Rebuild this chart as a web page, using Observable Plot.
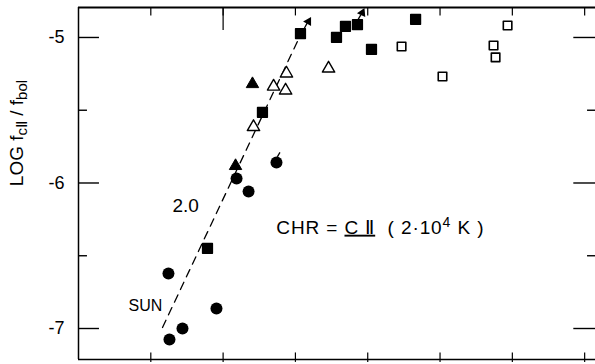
<!DOCTYPE html>
<html>
<head>
<meta charset="utf-8">
<script src="https://cdn.jsdelivr.net/npm/d3@7"></script>
<script src="https://cdn.jsdelivr.net/npm/@observablehq/plot@0.6"></script>
<style>
  html, body { margin: 0; padding: 0; background: #fff; }
  #chart svg { display: block; }
</style>
</head>
<body>
<div id="chart"></div>
<script>
// ---- data (x in arbitrary log units, 0.5 per tick; y = LOG fCII/fbol) ----
const filledCircles = [
  {x: 0.622, y: -6.622}, {x: 0.719, y: -7.000}, {x: 0.629, y: -7.076},
  {x: 0.954, y: -6.863}, {x: 1.093, y: -5.969}, {x: 1.176, y: -6.058},
  {x: 1.369, y: -5.859}
];
const filledSquares = [
  {x: 0.892, y: -6.450}, {x: 1.272, y: -5.515}, {x: 1.535, y: -4.973},
  {x: 1.784, y: -5.000}, {x: 1.846, y: -4.924}, {x: 1.929, y: -4.911},
  {x: 2.026, y: -5.082}, {x: 2.331, y: -4.876}
];
const filledTriangles = [
  {x: 1.203, y: -5.320}, {x: 1.086, y: -5.883}
];
const openTriangles = [
  {x: 1.210, y: -5.615}, {x: 1.349, y: -5.337}, {x: 1.438, y: -5.247},
  {x: 1.432, y: -5.364}, {x: 1.729, y: -5.213}
];
const openSquares = [
  {x: 2.234, y: -5.062}, {x: 2.517, y: -5.268}, {x: 2.870, y: -5.055},
  {x: 2.884, y: -5.137}, {x: 2.967, y: -4.918}
];
const slopeLine = [{x: 0.581, y: -6.993}, {x: 1.556, y: -4.938}];
const arrowShafts = [
  {x1: 1.560, y1: -4.940, x2: 1.582, y2: -4.900},
  {x1: 1.923, y1: -4.895, x2: 1.952, y2: -4.845},
  {x1: 1.375, y1: -5.820, x2: 1.393, y2: -5.790}
];
const arrowHeads = [
  {x: 1.590, y: -4.890, angle: 30},
  {x: 1.962, y: -4.830, angle: 25}
];
const yMajorTicks = [-5, -6, -7];
const yMinorTicks = [-5.5, -6.5];
const yTickLabels = ["-5", "-6", "-7"];
const xTicks = [0.5, 1, 1.5, 2, 2.5, 3, 3.5];
const xLongTopTicks = [1];
const labels = [
  {x: 0.650, y: -6.155, text: "2.0", size: 19},
  {x: 0.346, y: -6.845, text: "SUN", size: 16}
];
const xMin = 0, xMax = 3.575, yBot = -7.213, yTop = -4.794;

const font = "'Liberation Sans', Arial, sans-serif";

const chart = Plot.plot({
  width: 595,
  height: 364,
  marginLeft: 78,
  marginRight: 0,
  marginTop: 7,
  marginBottom: 5,
  style: {background: "#fff", fontFamily: font, color: "#000", overflow: "visible"},
  x: {domain: [xMin, xMax], axis: null},
  y: {domain: [yBot, yTop], axis: null},
  marks: [
    // frame (right edge cut off)
    Plot.ruleX([xMin], {y1: yBot, y2: yTop, stroke: "#000", strokeWidth: 1.5}),
    Plot.ruleY([yTop], {x1: xMin, x2: xMax, stroke: "#000", strokeWidth: 2}),
    Plot.ruleY([yBot], {x1: xMin, x2: xMax, stroke: "#000", strokeWidth: 1.5}),
    // left ticks
    Plot.ruleY(yMajorTicks, {x1: xMin, x2: xMin + 0.145, stroke: "#000", strokeWidth: 1.4}),
    Plot.ruleY(yMinorTicks, {x1: xMin, x2: xMin + 0.062, stroke: "#000", strokeWidth: 1.4}),
    // right ticks
    Plot.ruleY(yMajorTicks, {x1: xMax - 0.15, x2: xMax, stroke: "#000", strokeWidth: 1.4}),
    Plot.ruleY(yMinorTicks, {x1: xMax - 0.055, x2: xMax, stroke: "#000", strokeWidth: 1.4}),
    // top ticks
    Plot.ruleX(xTicks, {y1: yTop, y2: yTop - 0.058, stroke: "#000", strokeWidth: 1.2}),
    Plot.ruleX(xLongTopTicks, {y1: yTop, y2: yTop - 0.158, stroke: "#000", strokeWidth: 1.2}),
    // bottom ticks (crossing)
    Plot.ruleX(xTicks, {y1: yBot + 0.045, y2: yBot - 0.02, stroke: "#000", strokeWidth: 1.2}),
    // y tick labels
    Plot.text(yMajorTicks, {x: xMin, y: d => d, text: (d, i) => yTickLabels[i], dx: -14,
      textAnchor: "end", fontSize: 18, fill: "#000", fontFamily: font}),
    // dashed slope line
    Plot.line(slopeLine, {x: "x", y: "y", stroke: "#000", strokeWidth: 1.3, strokeDasharray: "8,6"}),
    // arrows
    Plot.link(arrowShafts, {x1: "x1", y1: "y1", x2: "x2", y2: "y2", stroke: "#000", strokeWidth: 1.3}),
    Plot.dot(arrowHeads, {x: "x", y: "y", symbol: "triangle", r: 3.4, rotate: "angle", fill: "#000"}),
    // data symbols
    Plot.dot(filledCircles, {x: "x", y: "y", r: 6, fill: "#000"}),
    Plot.dot(filledSquares, {x: "x", y: "y", symbol: "square", r: 5.5, fill: "#000", stroke: "#000",
      strokeWidth: 1.5, strokeLinejoin: "round"}),
    Plot.dot(filledTriangles, {x: "x", y: "y", symbol: "triangle", r: 4.6, fill: "#000", stroke: "#000",
      strokeWidth: 1, strokeLinejoin: "round"}),
    Plot.dot(openTriangles, {x: "x", y: "y", symbol: "triangle", r: 4.6, fill: "#fff", stroke: "#000",
      strokeWidth: 1.4, strokeLinejoin: "round"}),
    Plot.dot(openSquares, {x: "x", y: "y", symbol: "square", r: 4.8, fill: "#fff", stroke: "#000",
      strokeWidth: 1.6, strokeLinejoin: "round"}),
    // plain annotations
    Plot.text(labels, {x: "x", y: "y", text: "text", fontSize: "size", textAnchor: "start",
      lineAnchor: "middle", fill: "#000", fontFamily: font})
  ]
});

document.getElementById("chart").appendChild(chart);

// ---- rich-text annotations placed with the plot's scales ----
const sx = chart.scale("x"), sy = chart.scale("y");
const svg = d3.select(chart);

// y-axis title
const yTitle = {x: -0.38, y: -5.66};
const yt = svg.append("text")
  .attr("transform", `translate(${sx.apply(yTitle.x)},${sy.apply(yTitle.y)}) rotate(-90)`)
  .attr("text-anchor", "middle")
  .attr("font-family", font)
  .attr("font-size", 19)
  .attr("fill", "#000");
yt.append("tspan").text("LOG f");
yt.append("tspan").attr("dy", 4).attr("font-size", 15).text("c");
yt.append("tspan").attr("font-size", 15).attr("font-family", "'Liberation Serif', serif").text("\u2161");
yt.append("tspan").attr("dy", -4).text(" / f");
yt.append("tspan").attr("dy", 4).attr("font-size", 15).text("bol");

// CHR annotation
const chr = {x: 1.371, y: -6.352};
const ct = svg.append("text")
  .attr("x", sx.apply(chr.x))
  .attr("y", sy.apply(chr.y))
  .attr("text-anchor", "start")
  .attr("font-family", font)
  .attr("font-size", 19)
  .attr("letter-spacing", 0.9)
  .attr("fill", "#000");
ct.append("tspan").text("CHR = ");
ct.append("tspan").style("text-decoration", "underline").text("C \u2161");
ct.append("tspan").text("  ( 2\u00b710");
ct.append("tspan").attr("dy", -7).attr("font-size", 14).text("4");
ct.append("tspan").attr("dy", 7).text(" K )");
</script>
</body>
</html>
